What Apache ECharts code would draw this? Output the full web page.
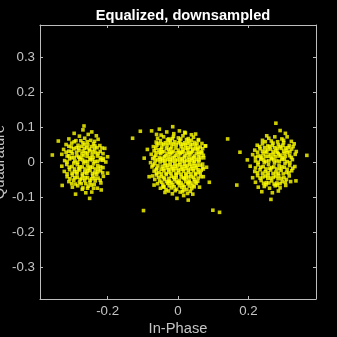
<!DOCTYPE html>
<html><head><meta charset="utf-8">
<script src="https://cdn.jsdelivr.net/npm/echarts@6/dist/echarts.min.js"></script>
<style>html,body{margin:0;padding:0;background:#000}#c{width:337px;height:337px}</style>
</head><body><div id="c"></div>
<script>
const titleText = 'Equalized, downsampled';
const xName = 'In-Phase';
const yName = 'Quadrature';
const xTicks = [-0.2, 0, 0.2];
const yTicks = [-0.3, -0.2, -0.1, 0, 0.1, 0.2, 0.3];
const axisLimit = 0.392;

const leftCluster = [
[-0.27,0.092],[-0.245,0.086],[-0.267,0.103],
[-0.295,0.082],[-0.255,0.079],[-0.232,0.075],[-0.28,0.074],
[-0.34,0.06],[-0.227,0.065],[-0.31,0.066],[-0.265,0.068],[-0.248,0.062],[-0.29,0.061],
[-0.318,0.05],[-0.302,0.054],[-0.284,0.048],[-0.27,0.055],[-0.256,0.049],[-0.24,0.052],[-0.222,0.047],[-0.208,0.039],
[-0.325,0.036],[-0.31,0.031],[-0.296,0.038],[-0.281,0.033],[-0.266,0.039],[-0.251,0.032],[-0.237,0.037],[-0.221,0.03],
[-0.357,0.02],[-0.33,0.022],[-0.315,0.017],[-0.3,0.024],[-0.287,0.018],[-0.273,0.023],[-0.258,0.016],[-0.244,0.021],[-0.229,0.017],[-0.213,0.024],[-0.2,0.015],
[-0.322,0.004],[-0.308,0.009],[-0.293,0.003],[-0.279,0.008],[-0.264,0.002],[-0.25,0.007],[-0.236,0.001],[-0.22,0.006],[-0.205,0.0],
[-0.33,-0.012],[-0.316,-0.007],[-0.301,-0.013],[-0.286,-0.008],[-0.272,-0.014],[-0.257,-0.009],[-0.243,-0.015],[-0.228,-0.01],[-0.213,-0.016],
[-0.323,-0.027],[-0.308,-0.022],[-0.294,-0.028],[-0.279,-0.023],[-0.265,-0.029],[-0.25,-0.024],[-0.236,-0.03],[-0.22,-0.025],[-0.2,-0.032],
[-0.315,-0.042],[-0.3,-0.038],[-0.286,-0.044],[-0.271,-0.039],[-0.257,-0.045],[-0.242,-0.04],[-0.227,-0.046],[-0.212,-0.041],
[-0.31,-0.056],[-0.296,-0.052],[-0.28,-0.058],[-0.265,-0.053],[-0.25,-0.059],[-0.235,-0.054],[-0.219,-0.06],
[-0.329,-0.067],[-0.3,-0.072],[-0.285,-0.068],[-0.27,-0.074],[-0.255,-0.069],[-0.24,-0.075],[-0.229,-0.075],[-0.218,-0.08],
[-0.291,-0.092],[-0.272,-0.078],[-0.262,-0.088],[-0.245,-0.086],[-0.251,-0.104],
[-0.303,0.043],[-0.289,0.041],[-0.274,0.045],[-0.259,0.041],[-0.245,0.044],[-0.23,0.041],
[-0.302,0.012],[-0.288,0.028],[-0.276,0.013],[-0.263,0.027],[-0.249,0.012],[-0.234,0.027],[-0.22,0.012],
[-0.296,-0.003],[-0.282,-0.019],[-0.268,-0.003],[-0.254,-0.018],[-0.24,-0.005],[-0.226,-0.019],
[-0.301,-0.032],[-0.287,-0.034],[-0.273,-0.047],[-0.259,-0.033],[-0.245,-0.048],[-0.231,-0.035],
[-0.292,-0.063],[-0.262,-0.062],[-0.246,-0.066],
[-0.295,0.058],[-0.276,0.061],[-0.258,0.058],[-0.237,0.059],
[-0.31,0.045],[-0.282,0.04],[-0.266,0.05],[-0.252,0.037],[-0.236,0.046],[-0.216,0.04],
[-0.318,0.028],[-0.303,0.03],[-0.27,0.031],[-0.257,0.025],[-0.242,0.03],[-0.227,0.024],
[-0.31,0.018],[-0.295,0.013],[-0.282,0.014],[-0.268,0.018],[-0.241,0.013],[-0.212,0.01],
[-0.315,0.0],[-0.285,-0.001],[-0.271,0.006],[-0.257,0.001],[-0.243,0.006],[-0.229,0.002],[-0.213,0.005],
[-0.309,-0.015],[-0.294,-0.02],[-0.279,-0.014],[-0.264,-0.02],[-0.249,-0.014],[-0.235,-0.02],[-0.22,-0.014],
[-0.315,-0.034],[-0.287,-0.028],[-0.272,-0.034],[-0.257,-0.026],[-0.243,-0.033],[-0.228,-0.028],[-0.214,-0.031],
[-0.307,-0.048],[-0.293,-0.045],[-0.278,-0.05],[-0.264,-0.045],[-0.25,-0.052],[-0.236,-0.046],[-0.221,-0.052],
[-0.302,-0.062],[-0.275,-0.062],[-0.257,-0.075],[-0.238,-0.064]
];

const centerCluster = [
[-0.032,0.086],[-0.012,0.081],[0.004,0.089],[0.021,0.083],[0.038,0.078],[-0.048,0.077],
[-0.058,0.068],[-0.041,0.072],[-0.026,0.066],[-0.013,0.073],[0.001,0.069],[0.014,0.075],[0.029,0.067],[0.044,0.071],[0.058,0.064],
[-0.062,0.057],[-0.05,0.061],[-0.036,0.055],[-0.022,0.062],[-0.009,0.058],[0.005,0.061],[0.019,0.055],[0.031,0.06],[0.047,0.056],[0.058,0.062],[0.068,0.053],
[-0.07,0.044],[-0.06,0.048],[-0.046,0.042],[-0.031,0.047],[-0.018,0.043],[-0.005,0.049],[0.009,0.044],[0.022,0.048],[0.036,0.042],[0.05,0.047],[0.063,0.043],[0.078,0.046],
[-0.068,0.032],[-0.054,0.035],[-0.04,0.03],[-0.027,0.036],[-0.013,0.031],[0.001,0.034],[0.015,0.029],[0.028,0.035],[0.041,0.031],[0.055,0.036],[0.066,0.03],
[-0.076,0.022],[-0.063,0.019],[-0.049,0.024],[-0.035,0.018],[-0.021,0.023],[-0.007,0.019],[0.007,0.024],[0.02,0.018],[0.034,0.022],[0.047,0.017],[0.061,0.023],[0.072,0.019],
[-0.072,0.01],[-0.058,0.006],[-0.044,0.011],[-0.03,0.007],[-0.016,0.012],[-0.002,0.006],[0.012,0.01],[0.025,0.005],[0.039,0.011],[0.052,0.007],[0.064,0.012],
[-0.078,-0.002],[-0.066,-0.005],[-0.051,0.0],[-0.037,-0.004],[-0.023,0.001],[-0.009,-0.005],[0.005,-0.001],[0.018,-0.006],[0.032,0.0],[0.045,-0.004],[0.059,0.001],[0.07,-0.006],
[-0.074,-0.014],[-0.06,-0.018],[-0.045,-0.012],[-0.031,-0.017],[-0.017,-0.013],[-0.003,-0.019],[0.011,-0.014],[0.025,-0.018],[0.039,-0.012],[0.052,-0.017],[0.07,-0.015],[0.081,-0.015],
[-0.068,-0.026],[-0.054,-0.03],[-0.04,-0.025],[-0.026,-0.029],[-0.012,-0.024],[0.002,-0.031],[0.016,-0.026],[0.03,-0.03],[0.044,-0.025],[0.058,-0.029],[0.066,-0.024],
[-0.072,-0.04],[-0.061,-0.037],[-0.047,-0.042],[-0.033,-0.036],[-0.019,-0.041],[-0.005,-0.037],[0.009,-0.043],[0.023,-0.038],[0.037,-0.042],[0.05,-0.036],[0.065,-0.042],[0.072,-0.042],
[-0.066,-0.05],[-0.052,-0.054],[-0.038,-0.049],[-0.024,-0.055],[-0.01,-0.05],[0.004,-0.053],[0.018,-0.048],[0.032,-0.054],[0.046,-0.05],[0.056,-0.055],
[-0.058,-0.062],[-0.043,-0.066],[-0.029,-0.061],[-0.015,-0.065],[0.0,-0.06],[0.014,-0.066],[0.028,-0.062],[0.042,-0.067],[0.052,-0.061],
[-0.05,-0.075],[-0.034,-0.079],[-0.019,-0.074],[-0.004,-0.078],[0.011,-0.073],[0.025,-0.079],[0.039,-0.076],
[-0.037,-0.087],[-0.016,-0.091],[0.006,-0.086],[0.027,-0.09],
[-0.047,0.052],[-0.033,0.039],[-0.02,0.053],[-0.006,0.04],[0.008,0.052],[0.021,0.039],[0.035,0.051],[0.049,0.038],
[-0.052,0.027],[-0.038,0.015],[-0.024,0.028],[-0.01,0.014],[0.004,0.027],[0.018,0.014],[0.031,0.027],[0.045,0.013],[0.058,0.028],
[-0.043,0.003],[-0.029,-0.009],[-0.015,0.003],[-0.001,-0.009],[0.013,0.003],[0.027,-0.01],[0.041,0.004],[0.055,-0.009],
[-0.048,-0.021],[-0.034,-0.033],[-0.02,-0.02],[-0.006,-0.033],[0.008,-0.021],[0.022,-0.034],[0.036,-0.02],[0.05,-0.033],
[-0.04,-0.045],[-0.026,-0.057],[-0.012,-0.044],[0.002,-0.058],[0.016,-0.045],[0.03,-0.058],[0.044,-0.044],
[-0.03,0.064],[-0.016,0.067],[0.008,0.066],[0.024,0.064],[0.038,0.062],
[-0.056,0.053],[-0.041,0.05],[-0.027,0.055],[-0.013,0.051],[0.001,0.055],[0.014,0.05],[0.027,0.054],[0.041,0.05],[0.054,0.052],
[-0.063,0.039],[-0.048,0.036],[-0.021,0.037],[0.013,0.037],[0.028,0.041],[0.042,0.037],[0.057,0.04],[0.07,0.038],
[-0.062,0.027],[-0.045,0.029],[-0.031,0.025],[-0.017,0.027],[-0.003,0.026],[0.011,0.028],[0.025,0.025],[0.038,0.027],[0.052,0.025],[0.068,0.026],
[-0.067,0.014],[-0.053,0.013],[-0.026,0.015],[0.002,0.016],[0.03,0.014],[0.058,0.015],[0.073,0.012],
[-0.065,0.004],[-0.05,0.008],[-0.037,0.005],[-0.022,0.008],[-0.008,0.004],[0.006,0.008],[0.019,0.002],[0.033,0.006],[0.047,0.002],[0.06,0.006],
[-0.071,-0.009],[-0.057,-0.011],[-0.036,-0.01],[-0.022,-0.008],[-0.008,-0.012],[0.006,-0.008],[0.02,-0.012],[0.034,-0.007],[0.048,-0.011],[0.063,-0.009],
[-0.062,-0.022],[-0.041,-0.019],[-0.027,-0.022],[-0.013,-0.019],[0.001,-0.024],[0.015,-0.02],[0.029,-0.023],[0.043,-0.019],[0.057,-0.022],[0.072,-0.02],
[-0.061,-0.032],[-0.047,-0.034],[-0.02,-0.032],[0.009,-0.035],[0.037,-0.034],[0.063,-0.033],
[-0.055,-0.044],[-0.026,-0.047],[-0.005,-0.045],[0.023,-0.046],[0.03,-0.043],[0.057,-0.046],
[-0.046,-0.058],[-0.033,-0.056],[-0.018,-0.059],[-0.005,-0.056],[0.009,-0.06],[0.022,-0.056],[0.037,-0.06],[0.048,-0.057],
[-0.04,-0.07],[-0.025,-0.068],[-0.011,-0.071],[0.004,-0.068],[0.018,-0.071],[0.032,-0.069],[0.046,-0.071],
[-0.027,-0.083],[-0.008,-0.082],[0.016,-0.08],[0.035,-0.084],
[-0.087,0.036],[-0.096,0.011],[-0.082,-0.042],[-0.068,-0.066],[-0.041,-0.072],[0.013,-0.085],[0.016,-0.096],
[0.029,-0.109],[-0.003,-0.104],[0.042,-0.092],[0.089,-0.058],[0.078,0.046],[0.061,-0.072],[0.05,0.08],[-0.061,0.079],
[-0.129,0.068],[-0.107,0.088],[-0.075,0.089],[-0.053,0.094],[-0.015,0.101],[0.019,0.085],[0.141,0.066],
[-0.098,-0.139],[0.099,-0.138],[0.118,-0.144]
];

const rightCluster = [
[0.278,0.111],[0.305,0.082],[0.252,0.075],[0.29,0.09],
[0.24,0.062],[0.258,0.068],[0.275,0.072],[0.295,0.066],[0.31,0.072],[0.322,0.059],
[0.225,0.048],[0.24,0.052],[0.255,0.046],[0.27,0.054],[0.285,0.049],[0.3,0.055],[0.316,0.047],[0.33,0.052],
[0.218,0.034],[0.233,0.038],[0.248,0.031],[0.263,0.037],[0.278,0.032],[0.293,0.039],[0.308,0.033],[0.323,0.037],[0.336,0.03],
[0.176,0.028],[0.197,0.006],[0.212,0.021],[0.227,0.017],[0.242,0.023],[0.257,0.016],[0.272,0.022],[0.287,0.017],[0.302,0.024],[0.317,0.018],[0.333,0.022],
[0.22,0.003],[0.235,0.008],[0.25,0.002],[0.265,0.009],[0.28,0.003],[0.295,0.008],[0.31,0.001],[0.325,0.007],[0.366,0.019],
[0.205,-0.012],[0.227,-0.008],[0.242,-0.013],[0.257,-0.007],[0.272,-0.014],[0.287,-0.009],[0.302,-0.015],[0.317,-0.01],[0.332,-0.013],
[0.218,-0.027],[0.233,-0.022],[0.248,-0.028],[0.263,-0.023],[0.278,-0.029],[0.293,-0.024],[0.308,-0.03],[0.323,-0.025],
[0.212,-0.045],[0.226,-0.039],[0.241,-0.043],[0.256,-0.038],[0.271,-0.044],[0.286,-0.039],[0.301,-0.045],[0.316,-0.04],
[0.167,-0.066],[0.22,-0.058],[0.236,-0.053],[0.251,-0.059],[0.266,-0.054],[0.281,-0.06],[0.296,-0.056],[0.32,-0.056],[0.335,-0.054],
[0.228,-0.072],[0.245,-0.07],[0.26,-0.075],[0.276,-0.068],[0.29,-0.074],[0.306,-0.067],
[0.238,-0.085],[0.268,-0.088],[0.285,-0.083],[0.264,-0.107],
[0.246,0.041],[0.26,0.044],[0.275,0.041],[0.29,0.044],[0.305,0.04],
[0.238,0.012],[0.252,0.027],[0.267,0.012],[0.282,0.028],[0.297,0.012],[0.311,0.027],
[0.245,-0.002],[0.26,-0.018],[0.274,-0.003],[0.289,-0.019],[0.304,-0.004],
[0.24,-0.032],[0.255,-0.047],[0.27,-0.033],[0.284,-0.048],[0.299,-0.034],[0.25,-0.065],[0.282,-0.066],
[0.265,0.06],[0.283,0.058],[0.3,0.062],[0.248,0.058],
[0.232,0.044],[0.268,0.048],[0.282,0.039],[0.298,0.048],[0.313,0.041],[0.327,0.044],
[0.226,0.028],[0.24,0.031],[0.255,0.036],[0.27,0.029],[0.285,0.024],[0.3,0.031],[0.318,0.029],
[0.22,0.013],[0.234,0.017],[0.249,0.016],[0.262,0.021],[0.277,0.015],[0.292,0.02],[0.305,0.016],[0.322,0.013],
[0.228,-0.001],[0.243,0.006],[0.258,0.003],[0.272,0.006],[0.288,0.002],[0.302,0.007],[0.318,-0.002],
[0.22,-0.017],[0.235,-0.015],[0.25,-0.02],[0.266,-0.016],[0.28,-0.02],[0.295,-0.014],[0.31,-0.021],[0.326,-0.018],
[0.226,-0.031],[0.256,-0.031],[0.285,-0.032],[0.315,-0.031],
[0.233,-0.046],[0.248,-0.04],[0.263,-0.046],[0.277,-0.04],[0.293,-0.047],[0.308,-0.05],
[0.243,-0.061],[0.258,-0.06],[0.273,-0.063],[0.29,-0.062],[0.305,-0.058]
];

const axisColor = '#bdbdbd';
const textColor = '#c4c4c4';
const pointColor = '#ffff00';
const fontFam = '"Liberation Sans", Arial, Helvetica, sans-serif';

function fmt(v) {
  if (Math.abs(v) < 1e-9) return '0';
  return (Math.round(v * 10) / 10).toString();
}

const chart = echarts.init(document.getElementById('c'), null, {renderer: 'canvas'});

function axisBase(pos, ticks, showLabel) {
  return {
    type: 'value', min: -axisLimit, max: axisLimit, position: pos,
    axisLine: {show: true, onZero: false, lineStyle: {color: axisColor, width: 1}},
    axisTick: {show: true, inside: true, length: 3, customValues: ticks, lineStyle: {color: axisColor, width: 1}},
    axisLabel: {show: showLabel, customValues: ticks, formatter: fmt, color: textColor, fontSize: 13.3, fontFamily: fontFam},
    splitLine: {show: false}
  };
}

const xMain = axisBase('bottom', xTicks, true);
xMain.axisLabel.margin = 6;
xMain.name = xName;
xMain.nameLocation = 'middle';
xMain.nameGap = 22;
xMain.nameMoveOverlap = false;
xMain.nameTextStyle = {color: textColor, fontSize: 14.7, fontFamily: fontFam};

const yMain = axisBase('left', yTicks, true);
yMain.axisLabel.margin = 5;
yMain.name = yName;
yMain.nameLocation = 'middle';
yMain.nameRotate = 90;
yMain.nameGap = 33;
yMain.nameMoveOverlap = false;
yMain.nameTextStyle = {color: textColor, fontSize: 14.7, fontFamily: fontFam};

const xTop = axisBase('top', xTicks, false);
const yRight = axisBase('right', yTicks, false);

function scatter(data) {
  return {
    type: 'scatter', data: data, xAxisIndex: 0, yAxisIndex: 0,
    symbol: 'rect', symbolSize: 3.6,
    itemStyle: {color: pointColor},
    silent: true
  };
}

chart.setOption({
  backgroundColor: '#000000',
  animation: false,
  title: {
    text: titleText, left: 178, top: 3, textAlign: 'center',
    textStyle: {color: '#ffffff', fontSize: 14.7, fontWeight: 'bold', fontFamily: fontFam}
  },
  grid: {left: 40, right: 21, top: 25, bottom: 38, containLabel: false, outerBoundsMode: 'none'},
  xAxis: [xMain, xTop],
  yAxis: [yMain, yRight],
  series: [scatter(leftCluster), scatter(centerCluster), scatter(rightCluster)]
});
</script>
</body></html>
